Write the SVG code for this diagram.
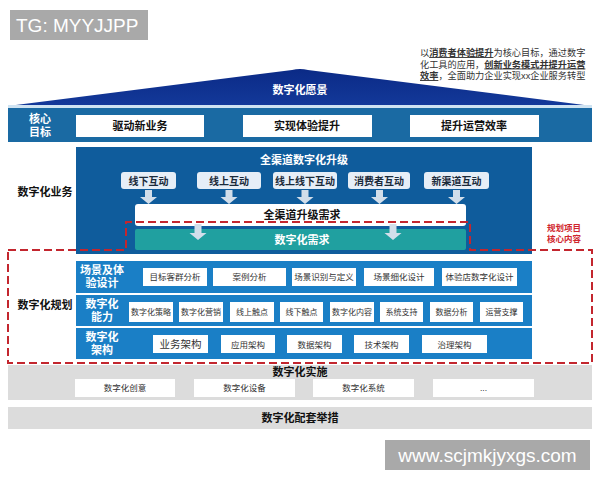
<svg xmlns="http://www.w3.org/2000/svg" width="600" height="480" viewBox="0 0 600 480">
<defs>
<style>
text{font-family:"Liberation Sans","Noto Sans CJK SC",sans-serif;}
.cjk{font-family:"Liberation Sans","Noto Sans CJK SC",sans-serif;}
.wl{fill:#ffffff;font-weight:bold;font-size:11px;text-anchor:middle;}
.bl{fill:#111111;font-weight:bold;font-size:11px;text-anchor:middle;}
.wbox{fill:#ffffff;}
.ch{fill:#e6eef7;}
.cht{fill:#1a2a3a;font-weight:bold;font-size:10px;text-anchor:middle;}
.bt{fill:#333333;font-size:8.5px;text-anchor:middle;}
.bt2{fill:#333333;font-size:8px;text-anchor:middle;}
.row{fill:#1a7fc6;}
.arr{fill:#d2deea;}
.gb{fill:#dcdcdc;}
.note{font-size:9.2px;fill:#333333;}
</style>
<linearGradient id="roof" x1="0" y1="0" x2="0" y2="1">
<stop offset="0" stop-color="#0b2a86"/>
<stop offset="1" stop-color="#13399a"/>
</linearGradient>
</defs>
<rect width="600" height="480" fill="#ffffff"/>

<g id="watermark-top">
<rect x="10" y="10" width="138" height="30" fill="#a9a9a9"/>
<text x="16" y="32" font-size="19" fill="#ffffff">TG: MYYJJPP</text>
</g>

<g id="vision-note">
<text class="note" x="420" y="56">以<tspan font-weight="bold" text-decoration="underline">消费者体验提升</tspan>为核心目标，通过数字</text>
<text class="note" x="420" y="67.5">化工具的应用，<tspan font-weight="bold" text-decoration="underline">创新业务模式并提升运营</tspan></text>
<text class="note" x="420" y="79"><tspan font-weight="bold" text-decoration="underline">效率</tspan>，全面助力企业实现xx企业服务转型</text>
</g>

<g id="vision">
<path d="M8,106 L292,70 Q300,68 308,70 L592,106 Z" fill="url(#roof)"/>
<rect x="8" y="105" width="584" height="3" fill="#cfe3f2"/>
<text class="cjk wl" x="300" y="94" font-size="12.5">数字化愿景</text>
</g>

<g id="core-goals">
<rect x="8" y="108" width="584" height="34" fill="#1a6aa3"/>
<text class="cjk wl" x="40" y="123" font-size="10.5">核心</text>
<text class="cjk wl" x="40" y="136" font-size="10.5">目标</text>
<rect class="wbox" x="76" y="115" width="128" height="22"/>
<text class="cjk bl" x="140" y="130" font-size="10">驱动新业务</text>
<rect class="wbox" x="243" y="115" width="129" height="22"/>
<text class="cjk bl" x="307" y="130" font-size="10">实现体验提升</text>
<rect class="wbox" x="410" y="115" width="129" height="22"/>
<text class="cjk bl" x="474" y="130" font-size="10">提升运营效率</text>
</g>

<g id="digital-business">
<text class="cjk bl" x="45" y="196" font-size="11">数字化业务</text>
<rect x="76" y="147" width="456" height="107" fill="#0f5c9c"/>
<text class="cjk wl" x="304" y="164" font-size="12.5">全渠道数字化升级</text>
</g>

<g id="channels">
<rect class="ch" x="121" y="172" width="55" height="17" rx="3"/>
<text class="cjk cht" x="148.5" y="184.5">线下互动</text>
<rect class="ch" x="197" y="172" width="64" height="17" rx="3"/>
<text class="cjk cht" x="229" y="184.5">线上互动</text>
<rect class="ch" x="273" y="172" width="64" height="17" rx="3"/>
<text class="cjk cht" x="305" y="184.5">线上线下互动</text>
<rect class="ch" x="348" y="172" width="62" height="17" rx="3"/>
<text class="cjk cht" x="379" y="184.5">消费者互动</text>
<rect class="ch" x="424" y="172" width="65" height="17" rx="3"/>
<text class="cjk cht" x="456.5" y="184.5">新渠道互动</text>
</g>

<g id="connectors">
<path class="arr" d="M145,190 h7 v7 h5 l-8.5,7 l-8.5,-7 h5 z"/>
<path class="arr" d="M225.5,190 h7 v7 h5 l-8.5,7 l-8.5,-7 h5 z"/>
<path class="arr" d="M301.5,190 h7 v7 h5 l-8.5,7 l-8.5,-7 h5 z"/>
<path class="arr" d="M376,190 h7 v7 h5 l-8.5,7 l-8.5,-7 h5 z"/>
<path class="arr" d="M453,190 h7 v7 h5 l-8.5,7 l-8.5,-7 h5 z"/>
</g>

<g id="upgrade-needs">
<rect class="wbox" x="135" y="204" width="331" height="22" rx="3"/>
<text class="cjk bl" x="302" y="219" font-size="10.5">全渠道升级需求</text>
</g>

<g id="digital-needs">
<rect x="135" y="229" width="331" height="21" rx="2" fill="#20a0a0"/>
<text class="cjk wl" x="302" y="243.5" font-size="10.5">数字化需求</text>
</g>

<g id="connectors-2">
<path class="arr" d="M194.5,224 h7 v9 h5 l-8.5,7 l-8.5,-7 h5 z"/>
<path class="arr" d="M389.5,224 h7 v9 h5 l-8.5,7 l-8.5,-7 h5 z"/>
</g>

<g id="digital-planning">
<text class="cjk bl" x="45" y="309" font-size="11">数字化规划</text>
<rect class="row" x="76" y="261" width="456" height="32"/>
<rect class="row" x="76" y="295" width="456" height="31"/>
<rect class="row" x="76" y="328" width="456" height="31"/>
<text class="cjk wl" x="102" y="274" font-size="10">场景及体</text>
<text class="cjk wl" x="102" y="287" font-size="10">验设计</text>
<text class="cjk wl" x="102" y="308" font-size="10">数字化</text>
<text class="cjk wl" x="102" y="321" font-size="10">能力</text>
<text class="cjk wl" x="102" y="341" font-size="10">数字化</text>
<text class="cjk wl" x="102" y="354" font-size="10">架构</text>
</g>

<g id="scene-design">
<rect class="wbox" x="143" y="268" width="64" height="18"/>
<text class="cjk bt" x="175" y="280">目标客群分析</text>
<rect class="wbox" x="213" y="268" width="73" height="18"/>
<text class="cjk bt" x="249.5" y="280">案例分析</text>
<rect class="wbox" x="292" y="268" width="64" height="18"/>
<text class="cjk bt" x="324" y="280">场景识别与定义</text>
<rect class="wbox" x="364" y="268" width="70" height="18"/>
<text class="cjk bt" x="399" y="280">场景细化设计</text>
<rect class="wbox" x="442" y="268" width="75" height="18"/>
<text class="cjk bt" x="479.5" y="280">体验店数字化设计</text>
</g>

<g id="capability">
<rect class="wbox" x="129" y="302" width="44" height="20"/>
<text class="cjk bt2" x="151" y="315">数字化策略</text>
<rect class="wbox" x="179" y="302" width="44" height="20"/>
<text class="cjk bt2" x="201" y="315">数字化营销</text>
<rect class="wbox" x="230" y="302" width="44" height="20"/>
<text class="cjk bt2" x="252" y="315">线上触点</text>
<rect class="wbox" x="280" y="302" width="43" height="20"/>
<text class="cjk bt2" x="301.5" y="315">线下触点</text>
<rect class="wbox" x="330" y="302" width="44" height="20"/>
<text class="cjk bt2" x="352" y="315">数字化内容</text>
<rect class="wbox" x="380" y="302" width="43" height="20"/>
<text class="cjk bt2" x="401.5" y="315">系统支持</text>
<rect class="wbox" x="430" y="302" width="43" height="20"/>
<text class="cjk bt2" x="451.5" y="315">数据分析</text>
<rect class="wbox" x="480" y="302" width="43" height="20"/>
<text class="cjk bt2" x="501.5" y="315">运营支撑</text>
</g>

<g id="architecture">
<rect class="wbox" x="153" y="335" width="55" height="18"/>
<text class="cjk" x="180.5" y="348" font-size="10.5" fill="#333" text-anchor="middle">业务架构</text>
<rect class="wbox" x="221" y="335" width="54" height="18"/>
<text class="cjk bt" x="248" y="347.5">应用架构</text>
<rect class="wbox" x="287" y="335" width="55" height="18"/>
<text class="cjk bt" x="314.5" y="347.5">数据架构</text>
<rect class="wbox" x="354" y="335" width="55" height="18"/>
<text class="cjk bt" x="381.5" y="347.5">技术架构</text>
<rect class="wbox" x="422" y="335" width="65" height="18"/>
<text class="cjk bt" x="454.5" y="347.5">治理架构</text>
</g>

<g id="planning-scope">
<path d="M8,250 H126 V222 H470 V250 H592 V363 H8 Z" fill="none" stroke="#c3262e" stroke-width="2" stroke-dasharray="8,4"/>
<text class="cjk" x="564" y="231" font-size="8.5" font-weight="bold" fill="#d0262e" text-anchor="middle">规划项目</text>
<text class="cjk" x="564" y="242" font-size="8.5" font-weight="bold" fill="#d0262e" text-anchor="middle">核心内容</text>
</g>

<g id="implementation">
<rect class="gb" x="8" y="365" width="584" height="35"/>
<text class="cjk bl" x="300" y="376" font-size="10.5">数字化实施</text>
<rect class="wbox" x="75" y="379" width="100" height="18"/>
<text class="cjk bt" x="125" y="391">数字化创意</text>
<rect class="wbox" x="194" y="379" width="101" height="18"/>
<text class="cjk bt" x="244.5" y="391">数字化设备</text>
<rect class="wbox" x="313" y="379" width="101" height="18"/>
<text class="cjk bt" x="363.5" y="391">数字化系统</text>
<rect class="wbox" x="433" y="379" width="101" height="18"/>
<text class="cjk bt" x="483.5" y="391">...</text>
</g>

<g id="supporting">
<rect class="gb" x="8" y="407" width="584" height="22"/>
<text class="cjk bl" x="300" y="422" font-size="10.5">数字化配套举措</text>
</g>

<g id="watermark-bottom">
<rect x="385" y="440" width="205" height="30" fill="#a9a9a9"/>
<text x="487.5" y="462" font-size="19" fill="#ffffff" text-anchor="middle">www.scjmkjyxgs.com</text>
</g>
</svg>
